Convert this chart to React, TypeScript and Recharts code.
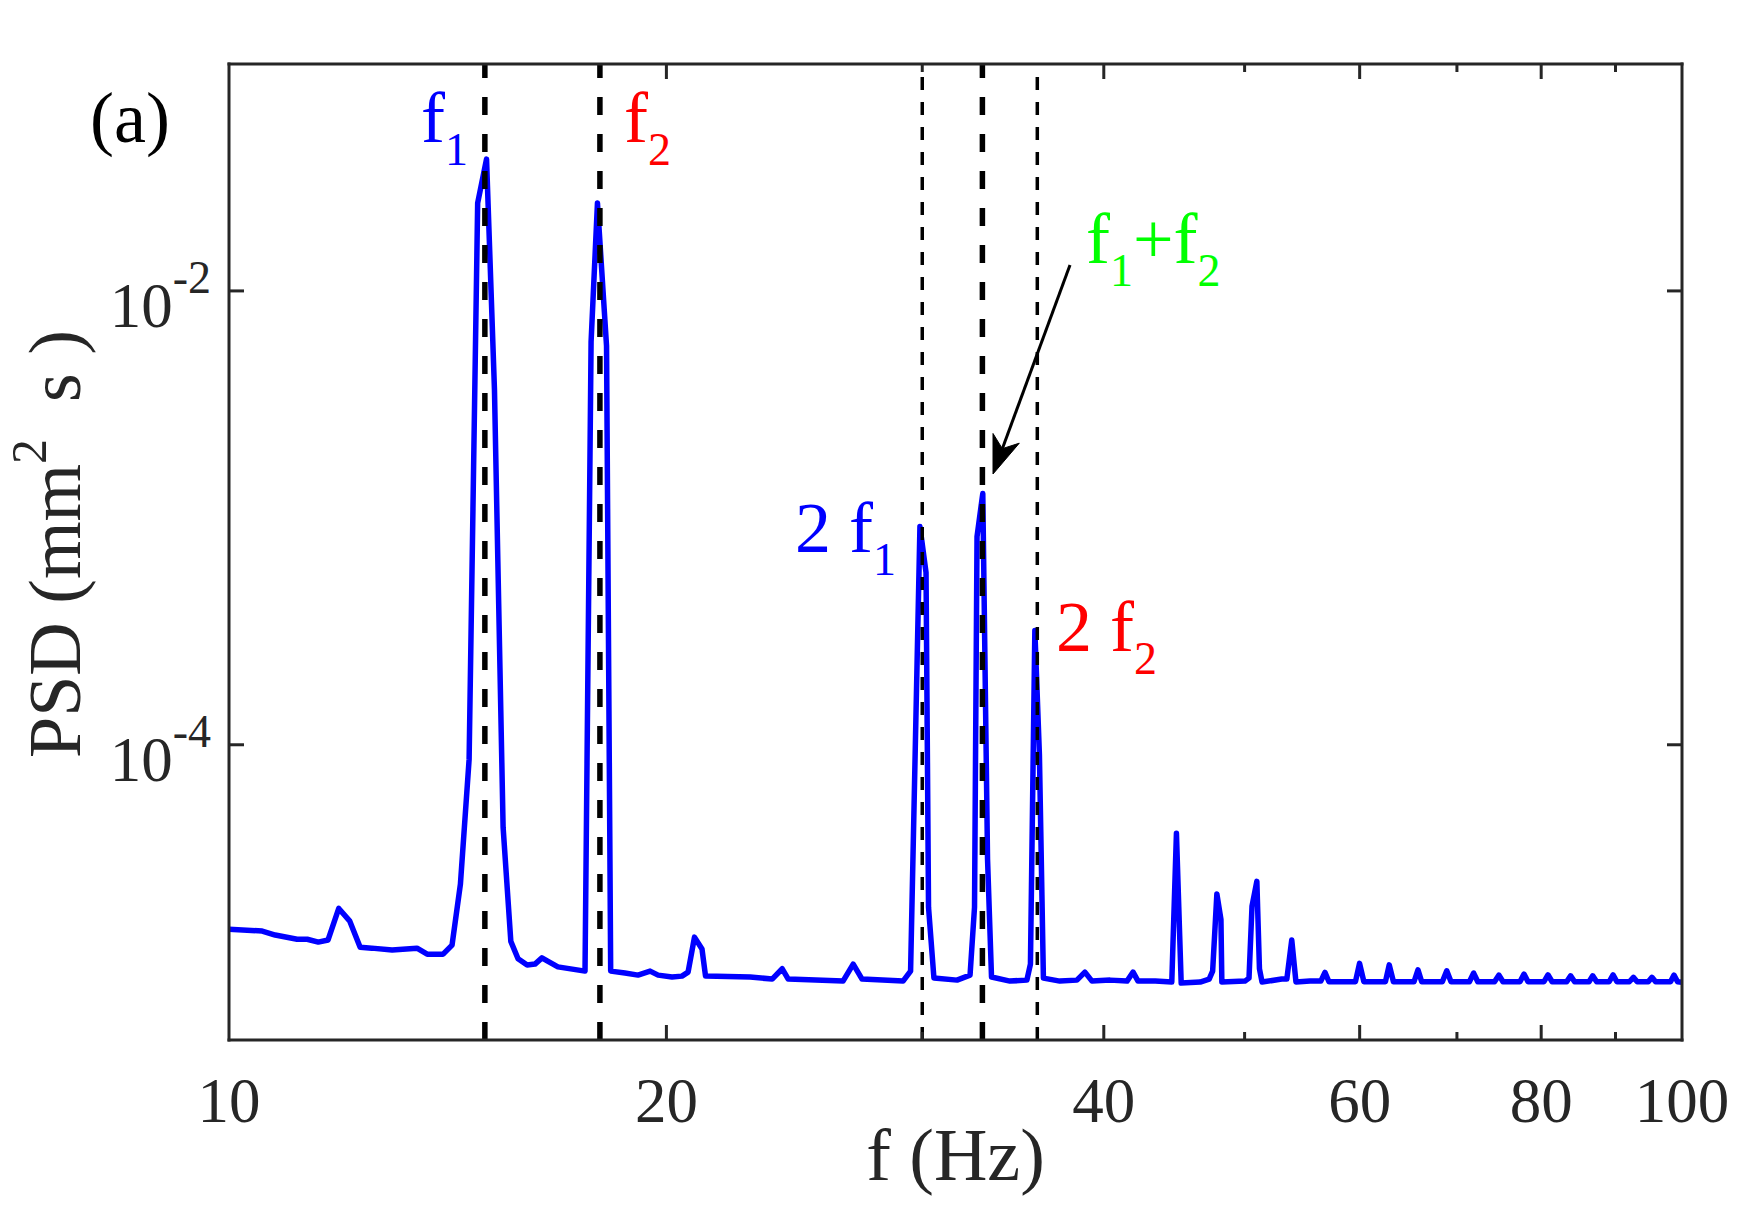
import React from 'react';
import { LineChart, Line, XAxis, YAxis, ReferenceLine } from 'recharts';

// ---------- data ----------
const freqHz = [
  10.0, 10.54, 10.76, 11.14, 11.32, 11.52, 11.7, 11.9, 12.11, 12.31, 12.54, 12.95, 13.47, 13.69, 14.04,
  14.24, 14.43, 14.63, 14.83, 15.04, 15.23, 15.44, 15.63, 15.81, 16.04, 16.24, 16.42, 16.58, 16.84,
  17.58, 17.75, 17.93, 18.19, 18.31, 18.73, 19.12, 19.49, 19.74, 20.18, 20.5, 20.7, 20.91, 21.16, 21.28,
  22.84, 23.65, 24.03, 24.26, 26.46, 26.89, 27.27, 29.1, 29.45, 29.89, 30.18, 30.3, 30.56, 31.7, 32.36,
  32.59, 32.72, 33.02, 33.27, 33.48, 34.47, 35.41, 35.61, 35.86, 36.12, 36.35, 37.31, 38.33, 38.82,
  39.26, 40.4, 41.5, 41.9, 42.23, 43.4, 44.55, 44.88, 45.22, 46.6, 47.27, 47.53, 47.85, 48.16, 48.23,
  50.03, 50.35, 50.59, 50.98, 51.19, 51.4, 53.03, 53.46, 53.88, 54.24, 55.46, 56.42, 56.79, 57.15,
  59.6, 59.99, 60.4, 62.5, 62.88, 63.3, 65.4, 65.81, 66.2, 68.4, 68.88, 69.35, 71.4, 71.88, 72.35,
  74.3, 74.82, 75.3, 77.35, 77.85, 78.35, 80.35, 80.86, 81.4, 83.3, 83.82, 84.35, 86.3, 86.81, 87.35,
  89.1, 89.65, 90.2, 92.0, 92.59, 93.15, 94.8, 95.35, 95.9, 98.2, 98.74, 99.3, 100.0,
];

const psd = [
  1.54e-5, 1.51e-5, 1.45e-5, 1.39e-5, 1.39e-5, 1.35e-5, 1.38e-5, 1.9e-5, 1.67e-5, 1.28e-5, 1.27e-5, 1.245e-5, 1.27e-5, 1.195e-5, 1.195e-5,
  1.31e-5, 2.43e-5, 8.6e-5, 2.44e-2, 3.81e-2, 3.67e-3, 4.33e-5, 1.36e-5, 1.14e-5, 1.07e-5, 1.08e-5, 1.15e-5, 1.11e-5, 1.05e-5,
  1.006e-5, 5.96e-3, 2.44e-2, 5.73e-3, 1.006e-5, 9.86e-6, 9.66e-6, 1.006e-5, 9.66e-6, 9.47e-6, 9.56e-6, 9.96e-6, 1.42e-5, 1.26e-5, 9.56e-6,
  9.47e-6, 9.28e-6, 1.03e-5, 9.28e-6, 9.09e-6, 1.08e-5, 9.28e-6, 9.09e-6, 1.006e-5, 9.15e-4, 5.74e-4, 1.92e-5, 9.37e-6, 9.18e-6, 9.66e-6,
  1.92e-5, 8.27e-4, 1.28e-3, 3.13e-5, 9.47e-6, 9.09e-6, 9.18e-6, 1.08e-5, 3.19e-4, 9.07e-5, 9.37e-6, 9.09e-6, 9.18e-6, 9.96e-6,
  9.09e-6, 9.18e-6, 9.09e-6, 9.96e-6, 9.09e-6, 9.09e-6, 9.0e-6, 4.07e-5, 8.91e-6, 9.0e-6, 9.28e-6, 1.006e-5, 2.2e-5, 1.7e-5, 9.0e-6,
  9.09e-6, 9.37e-6, 1.94e-5, 2.5e-5, 1.03e-5, 9.0e-6, 9.28e-6, 9.28e-6, 1.38e-5, 9.0e-6, 9.09e-6, 9.09e-6, 9.93e-6, 9.03e-6,
  9.03e-6, 1.088e-5, 9.03e-6, 9.03e-6, 1.072e-5, 9.03e-6, 9.03e-6, 1.02e-5, 9.03e-6, 9.03e-6, 1.009e-5, 9.03e-6, 9.03e-6, 9.86e-6, 9.03e-6,
  9.03e-6, 9.66e-6, 9.03e-6, 9.03e-6, 9.76e-6, 9.03e-6, 9.03e-6, 9.69e-6, 9.03e-6, 9.03e-6, 9.59e-6, 9.03e-6, 9.03e-6, 9.59e-6, 9.03e-6,
  9.03e-6, 9.69e-6, 9.03e-6, 9.03e-6, 9.44e-6, 9.03e-6, 9.03e-6, 9.44e-6, 9.03e-6, 9.03e-6, 9.66e-6, 9.03e-6, 8.97e-6,
];

const xDomain = [10, 100];
const yDomain = [5e-6, 0.1];
const xTicks = [10, 20, 30, 40, 50, 60, 70, 80, 90, 100];
const xTickLabels = [10, 20, 40, 60, 80, 100];
const xMajorTicks = [10, 20, 40, 60, 80, 100];
const yTicks = [1e-4, 1e-2];
const yTickExponents = ['-4', '-2'];
const fundamentalLines = [15, 18, 33]; // f1, f2, f1+f2
const harmonicLines = [30, 36]; // 2 f1, 2 f2

const data = freqHz.map((f, i) => ({ f, psd: psd[i] }));

// ---------- styling ----------
const AXIS = '#262626';
const FONT = '"Liberation Serif", "Times New Roman", Times, serif';
const TICK_FONT = 63;
const SUP_FONT = 46;

function BottomTick(props: any) {
  const { x, y, payload } = props;
  const v = payload.value;
  const len = xMajorTicks.includes(v) ? 15 : 8;
  return (
    <g>
      {v > xDomain[0] && v < xDomain[1] && (
        <line x1={x} y1={y} x2={x} y2={y - len} stroke={AXIS} strokeWidth={3} />
      )}
      {xTickLabels.includes(v) && (
        <text x={x} y={y + 82} textAnchor="middle" fontFamily={FONT} fontSize={TICK_FONT} fill={AXIS}>
          {v}
        </text>
      )}
    </g>
  );
}

function TopTick(props: any) {
  const { x, y, payload } = props;
  const v = payload.value;
  const len = xMajorTicks.includes(v) ? 15 : 8;
  if (!(v > xDomain[0] && v < xDomain[1])) return <g />;
  return <line x1={x} y1={y} x2={x} y2={y + len} stroke={AXIS} strokeWidth={3} />;
}

function LeftTick(props: any) {
  const { x, y, index } = props;
  return (
    <g>
      <line x1={x} y1={y} x2={x + 15} y2={y} stroke={AXIS} strokeWidth={3} />
      <text x={x - 18} y={y + 36} textAnchor="end" fontFamily={FONT} fontSize={TICK_FONT} fill={AXIS}>
        <tspan>10</tspan>
        <tspan dy={-34} fontSize={SUP_FONT}>{yTickExponents[index]}</tspan>
      </text>
    </g>
  );
}

function RightTick(props: any) {
  const { x, y } = props;
  return <line x1={x} y1={y} x2={x - 15} y2={y} stroke={AXIS} strokeWidth={3} />;
}

function XLabel(props: any) {
  const vb = props.viewBox;
  return (
    <text x={vb.x + vb.width / 2} y={vb.y + 140} textAnchor="middle" fontFamily={FONT} fontSize={74} fill={AXIS}>
      f (Hz)
    </text>
  );
}

function YLabel(props: any) {
  const vb = props.viewBox;
  const cx = 80;
  const cy = vb.y + vb.height / 2 - 8;
  return (
    <text
      x={cx}
      y={cy}
      transform={`rotate(-90, ${cx}, ${cy})`}
      textAnchor="middle"
      fontFamily={FONT}
      fontSize={74}
      fill={AXIS}
    >
      <tspan>PSD (mm</tspan>
      <tspan dy={-34} fontSize={50}>2</tspan>
      <tspan dy={34}>{'\u00A0\u00A0s\u00A0)'}</tspan>
    </text>
  );
}

function Annotations() {
  // arrow pointing to the f1+f2 peak
  const tip = [993, 474];
  const start = [1070, 265];
  const dx = tip[0] - start[0];
  const dy = tip[1] - start[1];
  const L = Math.hypot(dx, dy);
  const ux = dx / L;
  const uy = dy / L;
  const px = -uy;
  const py = ux;
  const headLen = 38;
  const headW = 14;
  const notch = 11;
  const bx = tip[0] - headLen * ux;
  const by = tip[1] - headLen * uy;
  const nx = tip[0] - (headLen - notch) * ux;
  const ny = tip[1] - (headLen - notch) * uy;
  const head = `M${tip[0]},${tip[1]} L${bx + headW * px},${by + headW * py} L${nx},${ny} L${bx - headW * px},${by - headW * py} Z`;
  return (
    <svg
      width={1742}
      height={1221}
      style={{ position: 'absolute', left: 0, top: 0, pointerEvents: 'none' }}
    >
      <text x={90} y={142} fontFamily={FONT} fontSize={72} fill="#000">(a)</text>
      <text x={421} y={142} fontFamily={FONT} fontSize={72} fill="#0000FF">
        f<tspan dy={23} fontSize={46}>1</tspan>
      </text>
      <text x={624} y={142} fontFamily={FONT} fontSize={72} fill="#FF0000">
        f<tspan dy={23} fontSize={46}>2</tspan>
      </text>
      <text x={1086} y={263} fontFamily={FONT} fontSize={72} fill="#00FF00">
        f<tspan dy={23} fontSize={46}>1</tspan>
        <tspan dy={-23}>+f</tspan>
        <tspan dy={23} fontSize={46}>2</tspan>
      </text>
      <text x={795} y={552} fontFamily={FONT} fontSize={72} fill="#0000FF">
        2 f<tspan dy={23} fontSize={46}>1</tspan>
      </text>
      <text x={1056} y={651} fontFamily={FONT} fontSize={72} fill="#FF0000">
        2 f<tspan dy={23} fontSize={46}>2</tspan>
      </text>
      <line x1={start[0]} y1={start[1]} x2={nx} y2={ny} stroke="#000" strokeWidth={3} />
      <path d={head} fill="#000" stroke="#000" strokeWidth={1} />
    </svg>
  );
}

export default function App() {
  const axisLine = { stroke: AXIS, strokeWidth: 3, strokeLinecap: 'square' as const };
  return (
    <div style={{ position: 'absolute', left: 0, top: 0, width: 1742, height: 1221, background: '#fff' }}>
      <LineChart width={1742} height={1221} data={data} margin={{ top: 54, right: 50, bottom: 81, left: 79 }}>
        <XAxis
          xAxisId="b"
          dataKey="f"
          type="number"
          scale="log"
          domain={xDomain}
          ticks={xTicks}
          interval={0}
          orientation="bottom"
          height={100}
          tickSize={0}
          tickMargin={0}
          tick={(p: any) => <BottomTick {...p} />}
          axisLine={axisLine}
          allowDataOverflow
          label={{ content: (p: any) => <XLabel {...p} /> }}
        />
        <XAxis
          xAxisId="t"
          dataKey="f"
          type="number"
          scale="log"
          domain={xDomain}
          ticks={xTicks}
          interval={0}
          orientation="top"
          height={10}
          tickSize={0}
          tickMargin={0}
          tick={(p: any) => <TopTick {...p} />}
          axisLine={axisLine}
          allowDataOverflow
        />
        <YAxis
          yAxisId="l"
          type="number"
          scale="log"
          domain={yDomain}
          ticks={yTicks}
          interval={0}
          orientation="left"
          width={150}
          tickSize={0}
          tickMargin={0}
          tick={(p: any) => <LeftTick {...p} />}
          axisLine={axisLine}
          allowDataOverflow
          label={{ content: (p: any) => <YLabel {...p} /> }}
        />
        <YAxis
          yAxisId="r"
          type="number"
          scale="log"
          domain={yDomain}
          ticks={yTicks}
          interval={0}
          orientation="right"
          width={10}
          tickSize={0}
          tickMargin={0}
          tick={(p: any) => <RightTick {...p} />}
          axisLine={axisLine}
          allowDataOverflow
        />
        <Line
          xAxisId="b"
          yAxisId="l"
          type="linear"
          dataKey="psd"
          stroke="#0000FF"
          strokeWidth={5.5}
          strokeLinejoin="round"
          strokeLinecap="round"
          dot={false}
          activeDot={false}
          isAnimationActive={false}
        />
        {fundamentalLines.map((f) => (
          <ReferenceLine
            key={`fl${f}`}
            xAxisId="b"
            yAxisId="l"
            segment={[{ x: f, y: yDomain[0] }, { x: f, y: yDomain[1] }]}
            stroke="#000"
            strokeWidth={5.5}
            strokeDasharray="18 19"
          />
        ))}
        {harmonicLines.map((f) => (
          <ReferenceLine
            key={`hl${f}`}
            xAxisId="b"
            yAxisId="l"
            segment={[{ x: f, y: yDomain[0] }, { x: f, y: yDomain[1] }]}
            stroke="#000"
            strokeWidth={3.5}
            strokeDasharray="13 12"
          />
        ))}
      </LineChart>
      <Annotations />
    </div>
  );
}
